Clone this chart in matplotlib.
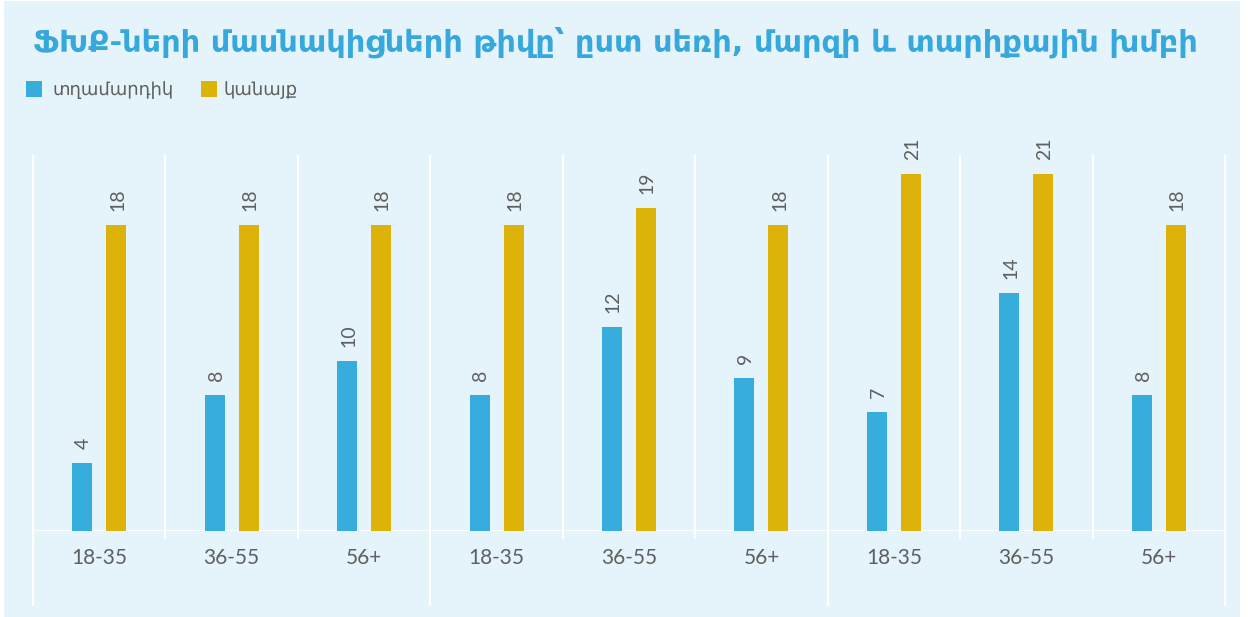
import matplotlib
matplotlib.use("Agg")
import matplotlib.pyplot as plt
from matplotlib.patches import Rectangle
import numpy as np

# data
age_groups = ['18-35', '36-55', '56+', '18-35', '36-55', '56+', '18-35', '36-55', '56+']
men = [4, 8, 10, 8, 12, 9, 7, 14, 8]
women = [18, 18, 18, 18, 19, 18, 21, 21, 18]
series_names = ['տղամարդիկ', 'կանայք']
title = 'ՖԽՔ-ների մասնակիցների թիվը՝ ըստ սեռի, մարզի և տարիքային խմբի'

W, H = 1248, 617
BLUE = '#37ADDE'
GOLD = '#DDB30A'
BG = '#E5F4FB'
GREY = '#5f5f5f'

def fx(px):
    return px / W

def fy(py):
    return 1 - py / H

fig = plt.figure(figsize=(W / 100, H / 100), dpi=100, facecolor='white')
fig.patches.append(Rectangle((fx(4), 0), fx(1240) - fx(4), fy(1), transform=fig.transFigure,
                             facecolor=BG, edgecolor='none', zorder=-10))

ax = fig.add_axes([fx(33), 1 - 531 / H, fx(1225) - fx(33), (531 - 156) / H])
ax.set_facecolor('none')
for s in ax.spines.values():
    s.set_visible(False)

n = len(age_groups)
x = np.arange(n) + 0.5
bw = 0.151
off = 0.128

ax.bar(x - off, men, bw, color=BLUE, zorder=3)
ax.bar(x + off, women, bw, color=GOLD, zorder=3)

for xi, v in zip(x - off, men):
    ax.annotate(str(v), (xi, v), xytext=(1, 10), textcoords='offset points', rotation=90,
                ha='center', va='bottom', fontsize=14, color=GREY, family=['Lato', 'DejaVu Sans'])
for xi, v in zip(x + off, women):
    ax.annotate(str(v), (xi, v), xytext=(1, 10), textcoords='offset points', rotation=90,
                ha='center', va='bottom', fontsize=14, color=GREY, family=['Lato', 'DejaVu Sans'])

ax.set_xlim(0, n)
ax.set_ylim(0, 375 / 17)

# white separators
tr = ax.get_xaxis_transform()
for i in range(n + 1):
    low = -74 / 375 if i % 3 == 0 else -7 / 375
    ax.plot([i, i], [low, 1], color='white', lw=1.5, transform=tr, clip_on=False, zorder=1)
ax.axhline(0, color='white', lw=2, zorder=2)

ax.set_yticks([])
ax.set_xticks(x)
ax.set_xticklabels(age_groups, fontsize=15, color=GREY, family=['Lato', 'DejaVu Sans'])
ax.tick_params(axis='x', length=0, pad=12)

# title, fitted to the reference width
t = fig.text(fx(33), fy(42), title, fontsize=22, fontweight='bold', color='#36A8DC',
             family='DejaVu Sans', ha='left', va='center')
fig.canvas.draw()
w = t.get_window_extent().width
t.set_fontsize(22 * (1196 - 33) / w)

# legend
fig.patches.append(Rectangle((fx(26), fy(97)), fx(16), 16 / H, transform=fig.transFigure,
                             facecolor=BLUE, edgecolor='none'))
fig.text(fx(52), fy(90), series_names[0], fontsize=13, color=GREY, family='DejaVu Sans',
         ha='left', va='center')
fig.patches.append(Rectangle((fx(201), fy(97)), fx(16), 16 / H, transform=fig.transFigure,
                             facecolor=GOLD, edgecolor='none'))
fig.text(fx(223), fy(90), series_names[1], fontsize=13, color=GREY, family='DejaVu Sans',
         ha='left', va='center')

fig.savefig('out.png', dpi=100, facecolor='white')
